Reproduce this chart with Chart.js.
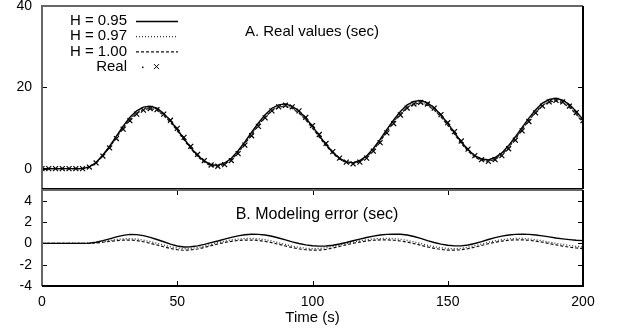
<!DOCTYPE html>
<html>
<head>
<meta charset="utf-8">
<script src="https://cdn.jsdelivr.net/npm/chart.js@4.4.1/dist/chart.umd.min.js"></script>
<style>
  html, body { margin: 0; padding: 0; background: #fff; }
  #wrap { position: relative; width: 625px; height: 331px; }
  #topChart { position: absolute; left: 0; top: 0; }
  #bottomChart { position: absolute; left: 0; top: 189px; }
</style>
</head>
<body>
<div id="wrap">
  <canvas id="topChart" width="625" height="189"></canvas>
  <canvas id="bottomChart" width="625" height="142"></canvas>
</div>
<script>
// Time axis (s)
const times = [
  0, 2.5, 5, 7.5, 10, 12.5, 15, 17.5, 20, 22.5,
  25, 27.5, 30, 32.5, 35, 37.5, 40, 42.5, 45, 47.5,
  50, 52.5, 55, 57.5, 60, 62.5, 65, 67.5, 70, 72.5,
  75, 77.5, 80, 82.5, 85, 87.5, 90, 92.5, 95, 97.5,
  100, 102.5, 105, 107.5, 110, 112.5, 115, 117.5, 120, 122.5,
  125, 127.5, 130, 132.5, 135, 137.5, 140, 142.5, 145, 147.5,
  150, 152.5, 155, 157.5, 160, 162.5, 165, 167.5, 170, 172.5,
  175, 177.5, 180, 182.5, 185, 187.5, 190, 192.5, 195, 197.5,
  200
];

// A. Real values (sec)
const realValues = [
  0, 0, 0, 0, 0, 0, 0, 0.4, 1.4, 3.1,
  5.1, 7.4, 9.7, 11.8, 13.4, 14.4, 14.8, 14.5, 13.4, 11.9,
  9.9, 7.7, 5.5, 3.5, 2.0, 0.9, 0.6, 1.0, 2.0, 3.7,
  5.8, 8.1, 10.4, 12.5, 14.2, 15.2, 15.6, 15.2, 14.2, 12.6,
  10.6, 8.4, 6.2, 4.2, 2.6, 1.6, 1.2, 1.6, 2.6, 4.3,
  6.4, 8.8, 11.1, 13.2, 14.9, 15.9, 16.3, 15.9, 14.9, 13.3,
  11.3, 9.1, 6.8, 4.8, 3.2, 2.2, 1.8, 2.2, 3.2, 4.9,
  7.0, 9.3, 11.6, 13.7, 15.4, 16.4, 16.8, 16.4, 15.4, 13.8,
  11.8
];

// B. Modeling error (sec), one list per H
const errH095 = [
  0, 0, 0, 0, 0, 0, 0, 0.02, 0.1, 0.25,
  0.42, 0.6, 0.75, 0.84, 0.82, 0.72, 0.56, 0.36, 0.15, -0.08,
  -0.25, -0.34, -0.32, -0.24, -0.1, 0.06, 0.22, 0.4, 0.56, 0.7,
  0.8, 0.85, 0.84, 0.78, 0.66, 0.5, 0.32, 0.14, -0.02, -0.14,
  -0.22, -0.26, -0.25, -0.18, -0.06, 0.08, 0.24, 0.4, 0.55, 0.68,
  0.78, 0.84, 0.86, 0.85, 0.78, 0.64, 0.46, 0.26, 0.08, -0.08,
  -0.18, -0.24, -0.24, -0.16, -0.02, 0.16, 0.36, 0.54, 0.68, 0.78,
  0.84, 0.86, 0.84, 0.78, 0.7, 0.6, 0.5, 0.42, 0.35, 0.29,
  0.25
];
const errH097 = [
  0, 0, 0, 0, 0, 0, 0, 0.01, 0.06, 0.15,
  0.26, 0.36, 0.42, 0.44, 0.4, 0.3, 0.16, 0, -0.16, -0.32,
  -0.44, -0.5, -0.48, -0.4, -0.26, -0.1, 0.06, 0.2, 0.32, 0.4,
  0.45, 0.46, 0.42, 0.34, 0.22, 0.06, -0.1, -0.26, -0.38, -0.46,
  -0.5, -0.48, -0.42, -0.3, -0.16, -0.02, 0.12, 0.24, 0.34, 0.41,
  0.45, 0.46, 0.44, 0.38, 0.28, 0.14, -0.02, -0.18, -0.32, -0.42,
  -0.48, -0.5, -0.46, -0.36, -0.22, -0.06, 0.1, 0.24, 0.34, 0.42,
  0.46, 0.46, 0.42, 0.34, 0.24, 0.12, 0, -0.1, -0.2, -0.28,
  -0.34
];
const errH100 = [
  0, 0, 0, 0, 0, 0, 0, 0, 0.04, 0.1,
  0.18, 0.25, 0.3, 0.31, 0.26, 0.15, 0, -0.16, -0.32, -0.48,
  -0.6, -0.65, -0.62, -0.53, -0.39, -0.22, -0.06, 0.08, 0.19, 0.27,
  0.31, 0.31, 0.27, 0.18, 0.06, -0.09, -0.25, -0.4, -0.52, -0.6,
  -0.64, -0.63, -0.56, -0.44, -0.29, -0.14, 0, 0.12, 0.22, 0.29,
  0.32, 0.32, 0.29, 0.22, 0.12, -0.02, -0.18, -0.34, -0.47, -0.57,
  -0.63, -0.64, -0.6, -0.5, -0.36, -0.2, -0.04, 0.1, 0.21, 0.29,
  0.33, 0.33, 0.29, 0.21, 0.1, -0.02, -0.14, -0.26, -0.36, -0.44,
  -0.5
];

const xTicks = [0, 50, 100, 150, 200];
const topTicks = [0, 20, 40];
const bottomTicks = [-4, -2, 0, 2, 4];

const FONT = '"Liberation Sans", Arial, Helvetica, sans-serif';

const pts = (ys) => times.map((t, i) => ({ x: t, y: ys[i] }));
// model output = real value + modelling error
const modelPts = (err) => times.map((t, i) => ({ x: t, y: realValues[i] + err[i] }));

const lineStyles = [
  { label: 'H = 0.95', err: errH095, borderColor: '#000', borderWidth: 1.4, borderDash: [] },
  { label: 'H = 0.97', err: errH097, borderColor: '#333', borderWidth: 1.3, borderDash: [1, 2] },
  { label: 'H = 1.00', err: errH100, borderColor: '#111', borderWidth: 1.2, borderDash: [3, 2] }
];

// inward ticks + frame, gnuplot style
const frameTicks = {
  id: 'frameTicks',
  afterDraw(chart, args, opts) {
    const { ctx, chartArea: a, scales } = chart;
    ctx.save();
    ctx.strokeStyle = '#000';
    ctx.lineWidth = 1;
    ctx.setLineDash([]);
    scales.y.ticks.forEach(t => {
      const p = Math.round(scales.y.getPixelForValue(t.value)) + 0.5;
      ctx.beginPath();
      ctx.moveTo(a.left, p); ctx.lineTo(a.left + 5, p);
      ctx.moveTo(a.right - 5, p); ctx.lineTo(a.right, p);
      ctx.stroke();
    });
    if (opts.xTicks) {
      scales.x.ticks.forEach(t => {
        const p = Math.round(scales.x.getPixelForValue(t.value)) + 0.5;
        ctx.beginPath();
        ctx.moveTo(p, a.bottom); ctx.lineTo(p, a.bottom - 5);
        ctx.moveTo(p, a.top); ctx.lineTo(p, a.top + 5);
        ctx.stroke();
      });
    }
    ctx.lineWidth = 2;
    ctx.strokeStyle = '#666';
    ctx.beginPath();
    ctx.moveTo(a.left, a.bottom); ctx.lineTo(a.left, a.top); ctx.lineTo(a.right, a.top);
    ctx.stroke();
    ctx.strokeStyle = '#000';
    ctx.beginPath();
    ctx.moveTo(a.right, a.top); ctx.lineTo(a.right, a.bottom); ctx.lineTo(a.left, a.bottom);
    ctx.stroke();
    ctx.restore();
  }
};

// panel title drawn inside the plot area
const panelTitle = {
  id: 'panelTitle',
  afterDraw(chart, args, opts) {
    const ctx = chart.ctx;
    ctx.save();
    ctx.font = opts.size + 'px ' + FONT;
    ctx.fillStyle = '#000';
    ctx.textAlign = 'center';
    ctx.textBaseline = 'middle';
    ctx.fillText(opts.text, opts.x, chart.chartArea.top + opts.dy);
    ctx.restore();
  }
};

// key in the top left corner: text, then sample
const keyBox = {
  id: 'keyBox',
  afterDraw(chart) {
    const { ctx, chartArea: a } = chart;
    ctx.save();
    ctx.font = '15px ' + FONT;
    ctx.textAlign = 'right';
    ctx.textBaseline = 'middle';
    chart.data.datasets.forEach((ds, i) => {
      const y = a.top + 15 + i * 15.2;
      ctx.fillStyle = '#000';
      ctx.fillText(ds.label, a.left + 85, y);
      ctx.strokeStyle = ds.borderColor;
      ctx.lineWidth = ds.borderWidth;
      if (ds.showLine === false) {
        ctx.fillRect(a.left + 100, y, 1.5, 1.5);
        ctx.lineWidth = 1;
        ctx.beginPath();
        ctx.moveTo(a.left + 112, y - 2.5); ctx.lineTo(a.left + 117, y + 2.5);
        ctx.moveTo(a.left + 117, y - 2.5); ctx.lineTo(a.left + 112, y + 2.5);
        ctx.stroke();
      } else {
        ctx.setLineDash(ds.borderDash || []);
        ctx.beginPath();
        ctx.moveTo(a.left + 94, y + 0.5); ctx.lineTo(a.left + 136, y + 0.5);
        ctx.stroke();
        ctx.setLineDash([]);
      }
    });
    ctx.restore();
  }
};

const yAxis = (min, max, tickList) => ({
  type: 'linear',
  min: min,
  max: max,
  afterBuildTicks: s => { s.ticks = tickList.map(v => ({ value: v })); },
  afterFit: s => { s.width = 42; s.paddingTop = 0; s.paddingBottom = 0; },
  grid: { display: false, drawTicks: false },
  border: { display: false },
  ticks: { color: '#000', padding: 10, font: { family: FONT, size: 14 } }
});

new Chart(document.getElementById('topChart'), {
  type: 'line',
  data: {
    datasets: lineStyles.map(s => ({
      label: s.label,
      data: modelPts(s.err),
      borderColor: s.borderColor,
      borderWidth: s.borderWidth,
      borderDash: s.borderDash,
      pointRadius: 0,
      tension: 0
    })).concat([{
      label: 'Real',
      data: pts(realValues),
      showLine: false,
      pointStyle: 'crossRot',
      pointRadius: 3.5,
      borderColor: '#000',
      backgroundColor: '#000',
      borderWidth: 1.2
    }])
  },
  options: {
    responsive: false,
    animation: false,
    layout: { autoPadding: false, padding: { left: 0, right: 42, top: 6, bottom: 0 } },
    plugins: {
      legend: { display: false },
      tooltip: { enabled: false },
      frameTicks: { xTicks: false },
      panelTitle: { text: 'A. Real values (sec)', size: 15, x: 312, dy: 26 }
    },
    scales: {
      x: { type: 'linear', min: 0, max: 200, display: false },
      y: yAxis(-5, 40, topTicks)
    }
  },
  plugins: [frameTicks, panelTitle, keyBox]
});

new Chart(document.getElementById('bottomChart'), {
  type: 'line',
  data: {
    datasets: lineStyles.map(s => ({
      label: s.label,
      data: pts(s.err),
      borderColor: s.borderColor,
      borderWidth: s.borderWidth,
      borderDash: s.borderDash,
      pointRadius: 0,
      tension: 0
    }))
  },
  options: {
    responsive: false,
    animation: false,
    layout: { autoPadding: false, padding: { left: 0, right: 42, top: 1, bottom: 0 } },
    plugins: {
      legend: { display: false },
      tooltip: { enabled: false },
      frameTicks: { xTicks: true },
      panelTitle: { text: 'B. Modeling error (sec)', size: 16, x: 317, dy: 24.5 }
    },
    scales: {
      x: {
        type: 'linear',
        min: 0,
        max: 200,
        afterBuildTicks: s => { s.ticks = xTicks.map(v => ({ value: v })); },
        afterFit: s => { s.height = 45; s.paddingLeft = 0; s.paddingRight = 0; },
        grid: { display: false, drawTicks: false },
        border: { display: false },
        ticks: { color: '#000', padding: 8, maxRotation: 0, font: { family: FONT, size: 14 } },
        title: { display: true, text: 'Time (s)', color: '#000', padding: { top: 0, bottom: 4 }, font: { family: FONT, size: 15 } }
      },
      y: yAxis(-4, 5, bottomTicks)
    }
  },
  plugins: [frameTicks, panelTitle]
});
</script>
</body>
</html>
